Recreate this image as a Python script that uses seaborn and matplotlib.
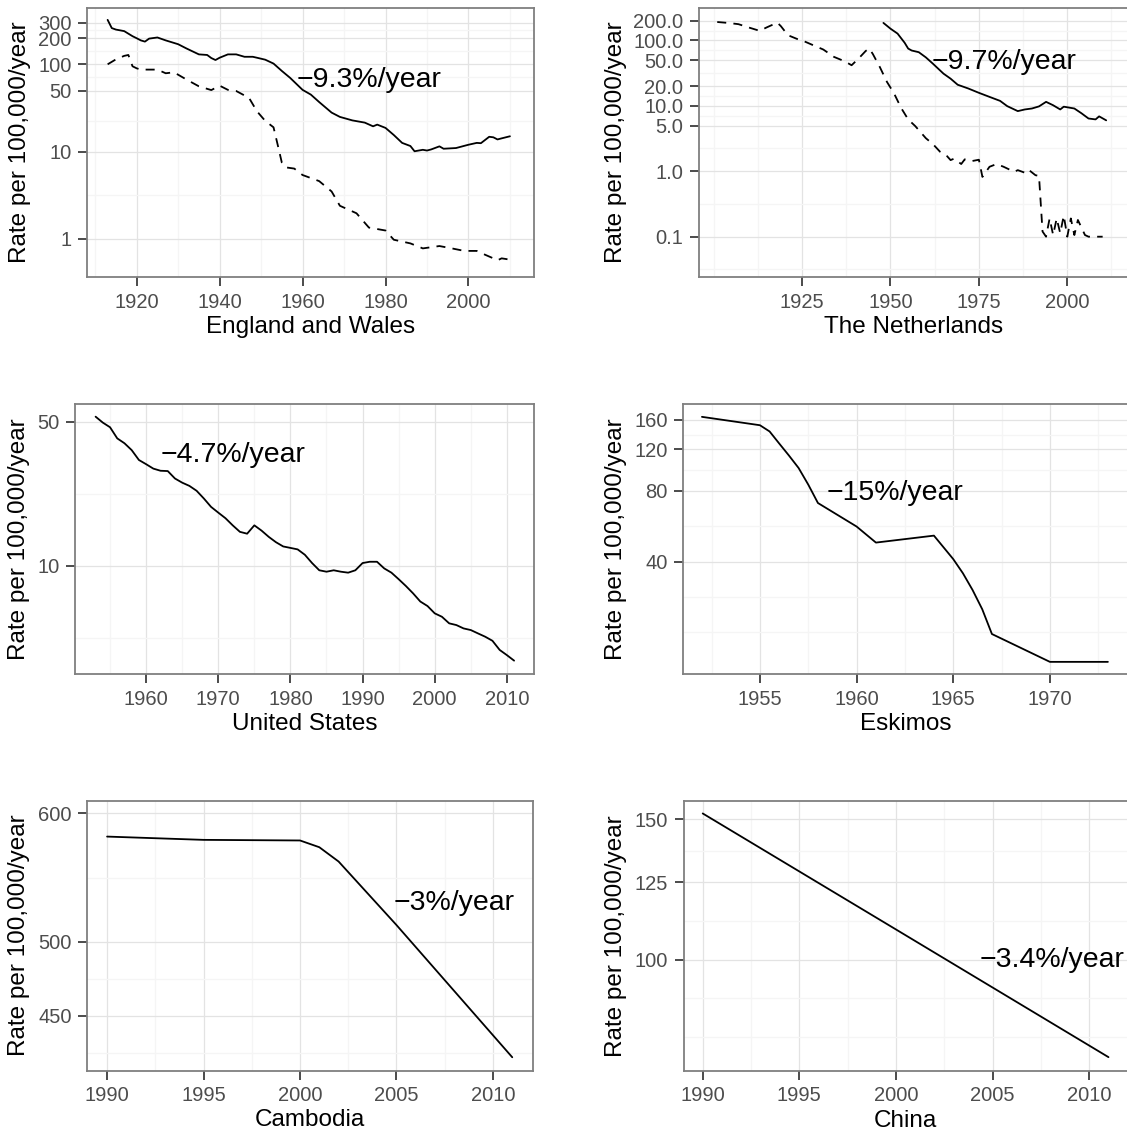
import matplotlib
matplotlib.use("Agg")
import matplotlib.pyplot as plt
import matplotlib.ticker as mticker
import numpy as np
import pandas as pd
import seaborn as sns

# ---- data ----
# England and Wales: solid = upper series, dashed = lower series
ew_years_a = [1913, 1914, 1915, 1916, 1917, 1919, 1920, 1921, 1922, 1923, 1925, 1927, 1930,
              1932, 1935, 1937, 1938, 1939, 1940, 1942, 1944, 1946, 1948, 1949, 1951, 1953,
              1955, 1957, 1960, 1962, 1964, 1967, 1969, 1972, 1975, 1977, 1978, 1980, 1982,
              1984, 1986, 1987, 1989, 1990, 1991, 1993, 1994, 1997, 2000, 2002, 2003, 2005,
              2006, 2007, 2008, 2010]
ew_rate_a = [323, 260, 250, 245, 240, 210, 199, 188, 182, 197, 203, 188, 170,
             152, 130, 128, 118, 112, 119, 130, 130, 122, 122, 119, 113, 102,
             84, 70, 51, 45, 37, 28, 25, 22.8, 21.5, 19.5, 20.4, 18.7, 15.5,
             12.6, 11.6, 10.1, 10.5, 10.3, 10.6, 11.5, 10.8, 11.0, 12.0, 12.6, 12.5, 14.8,
             14.6, 13.8, 14.2, 15.0]
ew_years_b = [1913, 1915, 1917, 1918, 1919, 1920, 1921, 1925, 1927, 1929, 1932, 1935, 1938,
              1940, 1942, 1944, 1946, 1947, 1949, 1951, 1953, 1954, 1955, 1956, 1958, 1960,
              1964, 1967, 1969, 1973, 1976, 1980, 1982, 1986, 1989, 1993, 1996, 1999, 2002,
              2004, 2006, 2007, 2008, 2010]
ew_rate_b = [100, 114, 125, 128, 95, 90, 87, 87, 79, 81, 67, 56, 50.7,
             57, 51, 49.5, 44, 42, 29, 22.5, 19, 12, 7.5, 6.6, 6.4, 5.4,
             4.6, 3.5, 2.4, 1.97, 1.35, 1.25, 0.98, 0.89, 0.78, 0.83, 0.78, 0.73, 0.73,
             0.66, 0.6, 0.57, 0.6, 0.58]

# The Netherlands
nl_years_a = [1948, 1950, 1952, 1954, 1955, 1956, 1958, 1960, 1962, 1965, 1967, 1969, 1972,
              1975, 1978, 1981, 1983, 1986, 1988, 1990, 1992, 1994, 1996, 1998, 1999, 2002,
              2004, 2006, 2008, 2009, 2011]
nl_rate_a = [185, 151, 127, 92, 75, 70, 66, 55, 44, 31, 26, 21, 18.4,
             15.8, 13.7, 11.9, 9.9, 8.3, 8.8, 9.1, 9.8, 11.5, 10.2, 8.8, 9.7, 9.1,
             7.7, 6.4, 6.2, 6.9, 6.0]
nl_years_b = [1901, 1904, 1907, 1910, 1913, 1915, 1918, 1919, 1921, 1924, 1925, 1928, 1931,
              1934, 1937, 1939, 1941, 1943, 1944, 1945, 1947, 1949, 1951, 1953, 1955, 1957,
              1960, 1962, 1964, 1966, 1967, 1968, 1970, 1971, 1973, 1975, 1976, 1978, 1980,
              1982, 1985, 1986, 1988, 1989, 1991, 1992, 1993, 1994, 1995, 1996, 1997, 1998,
              1999, 2000, 2001, 2002, 2003, 2005, 2006, 2007, 2010]
nl_rate_b = [191, 185, 177, 157, 140, 158, 187, 165, 120, 103, 100, 85, 72.5,
             56, 48, 41.7, 53, 69, 75, 62, 39, 23.2, 15.5, 9.3, 6.2, 4.9,
             3.2, 2.6, 1.99, 1.7, 1.48, 1.56, 1.29, 1.52, 1.43, 1.5, 0.82, 1.17, 1.29,
             1.17, 0.98, 1.04, 0.95, 1.06, 0.87, 0.85, 0.12, 0.1, 0.19, 0.106, 0.19, 0.113,
             0.21, 0.1, 0.19, 0.106, 0.18, 0.106, 0.1, 0.1, 0.1]

# United States
us_years = list(range(1953, 2012))
us_rate = [52.9, 49.5, 47, 41.5, 39.3, 36.4, 32.6, 31.1, 29.6, 28.9, 28.8, 26.5, 25.3,
           24.4, 23.1, 21.2, 19.3, 18.1, 17.0, 15.7, 14.6, 14.3, 15.7, 14.8, 13.8, 13.0,
           12.4, 12.2, 12.0, 11.3, 10.3, 9.5, 9.35, 9.5, 9.35, 9.25, 9.5, 10.3, 10.45,
           10.45, 9.7, 9.25, 8.6, 7.97, 7.34, 6.7, 6.37, 5.87, 5.65, 5.25, 5.15, 4.96,
           4.87, 4.69, 4.52, 4.32, 3.9, 3.68, 3.46]

# Eskimos
esk_years = [1952, 1955, 1955.5, 1956, 1956.5, 1957, 1957.5, 1958, 1960, 1961, 1964,
             1964.5, 1965, 1965.5, 1966, 1966.5, 1967, 1970, 1973]
esk_rate = [165, 152, 143, 127, 113, 100, 85, 71, 56.4, 48.2, 51.6,
            46, 41, 35.7, 30.3, 25.1, 19.7, 15.0, 15.0]

# Cambodia
kh_years = [1990, 1995, 2000, 2001, 2002, 2005, 2011]
kh_rate = [580.5, 577.8, 577.3, 571.8, 560.3, 512, 424.4]

# China
cn_years = [1990, 2000, 2011]
cn_rate = [152.6, 109.1, 75.4]

notes = ["\u22129.3%/year", "\u22129.7%/year", "\u22124.7%/year",
         "\u221215%/year", "\u22123%/year", "\u22123.4%/year"]
names = ["England and Wales", "The Netherlands", "United States",
         "Eskimos", "Cambodia", "China"]


def long_df(pairs):
    frames = []
    for key, yrs, vals in pairs:
        frames.append(pd.DataFrame({"year": yrs, "rate": vals, "series": key}))
    return pd.concat(frames, ignore_index=True)


sns.set_style("white")
plt.rcParams["font.family"] = ["Liberation Sans", "DejaVu Sans"]

W, H = 1127, 1133
fig = plt.figure(figsize=(W / 100, H / 100), dpi=100)


def minor_breaks(major, lo, hi):
    # same rule as ggplot's regular_minor_breaks, in transformed space
    b = list(major)
    d = b[1] - b[0]
    if lo < b[0]:
        b = [b[0] - d] + b
    if hi > b[-1]:
        b = b + [b[-1] + d]
    out = []
    for a, c in zip(b[:-1], b[1:]):
        out += [a, (a + c) / 2]
    out.append(b[-1])
    return [v for v in out if lo <= v <= hi and not np.any(np.isclose(v, major))]


def panel(box, df, xlim, ylim, xticks, yticks, ylabels, xlabel, note, note_xy, ylab_px):
    left, top, right, bottom = box
    ax = fig.add_axes([left / W, 1 - bottom / H, (right - left) / W, (bottom - top) / H])
    sns.lineplot(data=df, x="year", y="rate", style="series",
                 dashes={"a": "", "b": (5, 4)}, color="black", linewidth=1.3,
                 estimator=None, legend=False, ax=ax)
    ax.set_yscale("log")
    ax.set_xlim(xlim)
    ax.set_ylim(ylim)
    ax.set_xticks(xticks)
    ax.set_yticks(yticks, labels=ylabels)
    ax.xaxis.set_minor_locator(mticker.FixedLocator(minor_breaks(xticks, *xlim)))
    ymin = minor_breaks(np.log10(yticks), *np.log10(ylim))
    ax.yaxis.set_minor_locator(mticker.FixedLocator([10 ** v for v in ymin]))
    ax.yaxis.set_minor_formatter(mticker.NullFormatter())
    ax.set_axisbelow(True)
    ax.grid(which="major", color="#E3E3E3", linewidth=0.9)
    ax.grid(which="minor", color="#F5F5F5", linewidth=0.9)
    ax.tick_params(which="minor", length=0)
    ax.tick_params(which="major", direction="out", length=6.7, width=1.1,
                   bottom=True, left=True, top=False, right=False,
                   color="#1A1A1A", labelcolor="#4D4D4D", labelsize=14.5, pad=4.5)
    for s in ax.spines.values():
        s.set_visible(True)
        s.set_color("#7F7F7F")
        s.set_linewidth(1.3)
    ax.set_xlabel(xlabel, fontsize=17.5, color="black", va="center")
    ax.xaxis.set_label_coords(0.5, -50 / (bottom - top))
    ax.set_ylabel("Rate per 100,000/year", fontsize=17.5, color="black", va="center")
    ax.yaxis.set_label_coords((ylab_px - left) / (right - left), 0.5)
    ax.text(note_xy[0], note_xy[1], note, fontsize=20.5, ha="center", va="center",
            color="black")
    return ax


panel((87.3, 8, 534, 277.3),
      long_df([("a", ew_years_a, ew_rate_a), ("b", ew_years_b, ew_rate_b)]),
      (1908.1, 2015.8), (0.364, 441.6), [1920, 1940, 1960, 1980, 2000],
      [1, 10, 50, 100, 200, 300], ["1", "10", "50", "100", "200", "300"],
      names[0], notes[0], (1976, 66.3), 19.6)

panel((698.7, 8, 1128, 277.3),
      long_df([("a", nl_years_a, nl_rate_a), ("b", nl_years_b, nl_rate_b)]),
      (1895.76, 2017.17), (0.02395, 312.6), [1925, 1950, 1975, 2000],
      [0.1, 1, 5, 10, 20, 50, 100, 200],
      ["0.1", "1.0", "5.0", "10.0", "20.0", "50.0", "100.0", "200.0"],
      names[1], notes[1], (1982, 47.3), 616)

panel((75.4, 404, 534.3, 674), long_df([("a", us_years, us_rate)]),
      (1950.2, 2013.8), (2.98, 60.95), [1960, 1970, 1980, 1990, 2000, 2010],
      [10, 50], ["10", "50"], names[2], notes[2], (1972, 34.5), 19.3)

panel((683.2, 404, 1128, 674), long_df([("a", esk_years, esk_rate)]),
      (1951.03, 1974.04), (13.32, 187.1), [1955, 1960, 1965, 1970],
      [40, 80, 120, 160], ["40", "80", "120", "160"], names[3], notes[3],
      (1962, 78.1), 616.3)

panel((87.4, 800.5, 532.9, 1070.5), long_df([("a", kh_years, kh_rate)]),
      (1988.98, 2012.07), (416.5, 611), [1990, 1995, 2000, 2005, 2010],
      [450, 500, 600], ["450", "500", "600"], names[4], notes[4], (2008, 528), 19.5)

panel((683.6, 801, 1128, 1070.7), long_df([("a", cn_years, cn_rate)]),
      (1989.01, 2012.01), (72.5, 158.2), [1990, 1995, 2000, 2005, 2010],
      [100, 125, 150], ["100", "125", "150"], names[5], notes[5], (2008.08, 99.8), 616)

fig.savefig("out.png", dpi=100)
